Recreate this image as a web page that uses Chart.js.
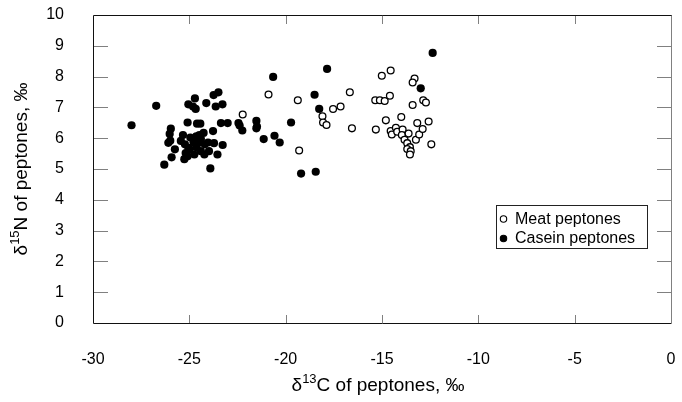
<!DOCTYPE html>
<html>
<head>
<meta charset="utf-8">
<script src="https://cdn.jsdelivr.net/npm/chart.js@4.4.0/dist/chart.umd.min.js"></script>
<style>
  html, body { margin: 0; padding: 0; background: #fff; }
  canvas { display: block; }
</style>
</head>
<body>
<canvas id="isotopeChart" width="682" height="402"></canvas>
<script>
// axis ticks
const xTicks = [-30, -25, -20, -15, -10, -5, 0]
const yTicks = [0, 1, 2, 3, 4, 5, 6, 7, 8, 9, 10]

// Meat peptones (open circles)
const meatC = [-22.23, -20.89, -19.37, -19.30, -18.09, -18.06, -17.88, -17.54, -17.15, -16.67,
  -16.56, -15.32, -15.35, -15.11, -14.86, -14.59, -14.55, -15.01, -13.31, -13.41,
  -12.86, -12.72, -13.41, -14.80, -14.00, -13.17, -12.58,
  -14.55, -14.49, -14.28, -14.21, -13.93, -13.97, -13.62, -13.83, -13.69, -13.55,
  -13.69, -13.51, -13.55, -13.24, -13.07, -12.89, -12.44]
const meatN = [6.77, 7.42, 7.23, 5.60, 6.71, 6.51, 6.43, 6.95, 7.03, 7.49,
  6.32, 6.28, 7.23, 7.23, 7.21, 7.38, 8.20, 8.03, 7.94, 7.81,
  7.23, 7.16, 7.08, 6.58, 6.69, 6.49, 6.54,
  6.23, 6.12, 6.34, 6.21, 6.28, 6.10, 6.15, 5.95, 5.84, 5.71,
  5.65, 5.58, 5.47, 5.95, 6.12, 6.30, 5.80]

// Casein peptones (filled circles)
const caseinC = [-28.00, -26.72, -24.71, -25.05, -24.81, -24.67, -24.12, -23.74, -23.49, -23.63,
  -23.28, -25.09, -24.60, -24.43, -23.36, -23.01, -22.45, -22.39, -22.25, -21.52,
  -21.49, -21.52, -19.72, -21.14, -20.58, -20.31, -19.20, -18.44, -23.91, -20.65,
  -18.50, -18.26, -17.85, -12.37, -12.99,
  -25.96, -26.02, -25.99, -26.09, -25.75, -25.92, -26.30, -25.26, -25.09, -24.74,
  -25.33, -25.44, -25.23, -24.95, -24.78, -25.05, -24.64, -24.98, -25.19, -24.40,
  -24.26, -24.48, -24.55, -24.20, -24.03, -23.72, -23.77, -23.27, -24.40, -24.22,
  -23.98, -23.54, -24.64]
const caseinN = [6.42, 7.05, 7.29, 7.10, 7.03, 6.95, 7.14, 7.40, 7.49, 7.03,
  7.10, 6.51, 6.47, 6.47, 6.49, 6.49, 6.49, 6.41, 6.25, 6.56,
  6.38, 6.32, 6.51, 5.97, 6.08, 5.86, 4.85, 4.91, 5.02, 7.99,
  7.41, 6.95, 8.25, 8.77, 7.62,
  6.31, 6.14, 5.92, 5.85, 5.64, 5.38, 5.14, 5.32, 5.41, 5.47,
  6.10, 5.91, 5.80, 6.02, 5.86, 5.69, 5.71, 5.63, 5.52, 5.97,
  6.17, 6.10, 5.84, 5.80, 5.86, 5.84, 6.23, 5.78, 5.58, 5.47,
  5.58, 5.47, 6.06]

const FONT = "'Liberation Sans', Arial, Helvetica, sans-serif"

function toPoints(xs, ys) {
  return xs.map((v, i) => ({ x: v, y: ys[i] }))
}

// write text with superscript parts, centred on (x, y)
function drawRich(ctx, parts, x, y, size) {
  const supSize = Math.round(size * 0.68)
  let total = 0
  parts.forEach((p) => {
    ctx.font = `${p.sup ? supSize : size}px ${FONT}`
    p.w = ctx.measureText(p.t).width
    total += p.w
  })
  let cx = x - total / 2
  ctx.textAlign = "left"
  ctx.textBaseline = "middle"
  parts.forEach((p) => {
    ctx.font = `${p.sup ? supSize : size}px ${FONT}`
    ctx.fillText(p.t, cx, p.sup ? y - size * 0.33 : y)
    cx += p.w
  })
}

// frame and inward tick marks
const framePlugin = {
  id: "frame",
  beforeDatasetsDraw(chart) {
    const { ctx, chartArea: a, scales } = chart
    ctx.save()
    ctx.lineWidth = 1
    ctx.strokeStyle = "#808080"
    ctx.beginPath()
    scales.y.ticks.forEach((t) => {
      if (t.value <= 0 || t.value >= 10) return
      const py = Math.round(scales.y.getPixelForValue(t.value)) + 0.5
      ctx.moveTo(a.left, py); ctx.lineTo(a.left + 15, py)
      ctx.moveTo(a.right, py); ctx.lineTo(a.right - 14, py)
    })
    scales.x.ticks.forEach((t) => {
      if (t.value <= -30 || t.value >= 0) return
      const px = Math.round(scales.x.getPixelForValue(t.value)) + 0.5
      ctx.moveTo(px, a.bottom); ctx.lineTo(px, a.bottom - 8)
      ctx.moveTo(px, a.top); ctx.lineTo(px, a.top + 9)
    })
    ctx.moveTo(a.right + 0.5, a.top); ctx.lineTo(a.right + 0.5, a.bottom)
    ctx.stroke()

    ctx.strokeStyle = "#111"
    ctx.beginPath()
    ctx.moveTo(a.right + 0.5, a.top + 0.5)
    ctx.lineTo(a.left + 0.5, a.top + 0.5)
    ctx.lineTo(a.left + 0.5, a.bottom + 0.5)
    ctx.lineTo(a.right + 0.5, a.bottom + 0.5)
    ctx.stroke()
    ctx.restore()
  },
  afterDraw(chart) {
    const { ctx, chartArea: a } = chart
    ctx.save()
    ctx.fillStyle = "#000"
    drawRich(ctx, [{ t: "δ" }, { t: "13", sup: true }, { t: "C of peptones, ‰" }],
      (a.left + a.right) / 2 - 4, 386, 19)
    ctx.translate(22, (a.top + a.bottom) / 2)
    ctx.rotate(-Math.PI / 2)
    drawRich(ctx, [{ t: "δ" }, { t: "15", sup: true }, { t: "N of peptones, ‰" }], 0, 0, 19)
    ctx.restore()

    // legend box
    ctx.save()
    const bx = 496.5, by = 205.5, bw = 151, bh = 43
    ctx.fillStyle = "#fff"
    ctx.fillRect(bx, by, bw, bh)
    ctx.strokeStyle = "#222"
    ctx.lineWidth = 1
    ctx.strokeRect(bx, by, bw, bh)
    chart.data.datasets.forEach((ds, i) => {
      const ly = 219 + i * 19.5
      ctx.beginPath()
      ctx.arc(503.5, ly, 3.2, 0, Math.PI * 2)
      ctx.fillStyle = ds.backgroundColor
      ctx.fill()
      ctx.lineWidth = 1.1
      ctx.strokeStyle = "#000"
      ctx.stroke()
      ctx.fillStyle = "#000"
      ctx.font = `16px ${FONT}`
      ctx.textAlign = "left"
      ctx.textBaseline = "middle"
      ctx.fillText(ds.label, 515, ly + 0.5)
    })
    ctx.restore()
  },
}

new Chart(document.getElementById("isotopeChart"), {
  type: "scatter",
  data: {
    datasets: [
      {
        label: "Meat peptones",
        data: toPoints(meatC, meatN),
        backgroundColor: "#fff",
        borderColor: "#000",
        borderWidth: 1.3,
        pointRadius: 3.4,
      },
      {
        label: "Casein peptones",
        data: toPoints(caseinC, caseinN),
        backgroundColor: "#000",
        borderColor: "#000",
        borderWidth: 0,
        pointRadius: 4.1,
      },
    ],
  },
  options: {
    responsive: false,
    animation: false,
    devicePixelRatio: 1,
    layout: { padding: 0 },
    plugins: {
      legend: { display: false },
      tooltip: { enabled: false },
    },
    scales: {
      x: {
        type: "linear",
        min: -30,
        max: 0,
        afterBuildTicks: (scale) => { scale.ticks = xTicks.map((v) => ({ value: v })) },
        afterFit: (scale) => {
          scale.height = 79
          scale.paddingLeft = 0
          scale.paddingRight = 11
        },
        grid: { display: false },
        border: { display: false },
        ticks: { color: "#000", font: { family: FONT, size: 16 }, padding: 19, maxRotation: 0 },
      },
      y: {
        type: "linear",
        min: 0,
        max: 10,
        afterBuildTicks: (scale) => { scale.ticks = yTicks.map((v) => ({ value: v })) },
        afterFit: (scale) => {
          scale.width = 93
          scale.paddingTop = 15
          scale.paddingBottom = 0
        },
        grid: { display: false },
        border: { display: false },
        ticks: { color: "#000", font: { family: FONT, size: 16 }, padding: 21 },
      },
    },
  },
  plugins: [framePlugin],
})
</script>
</body>
</html>
